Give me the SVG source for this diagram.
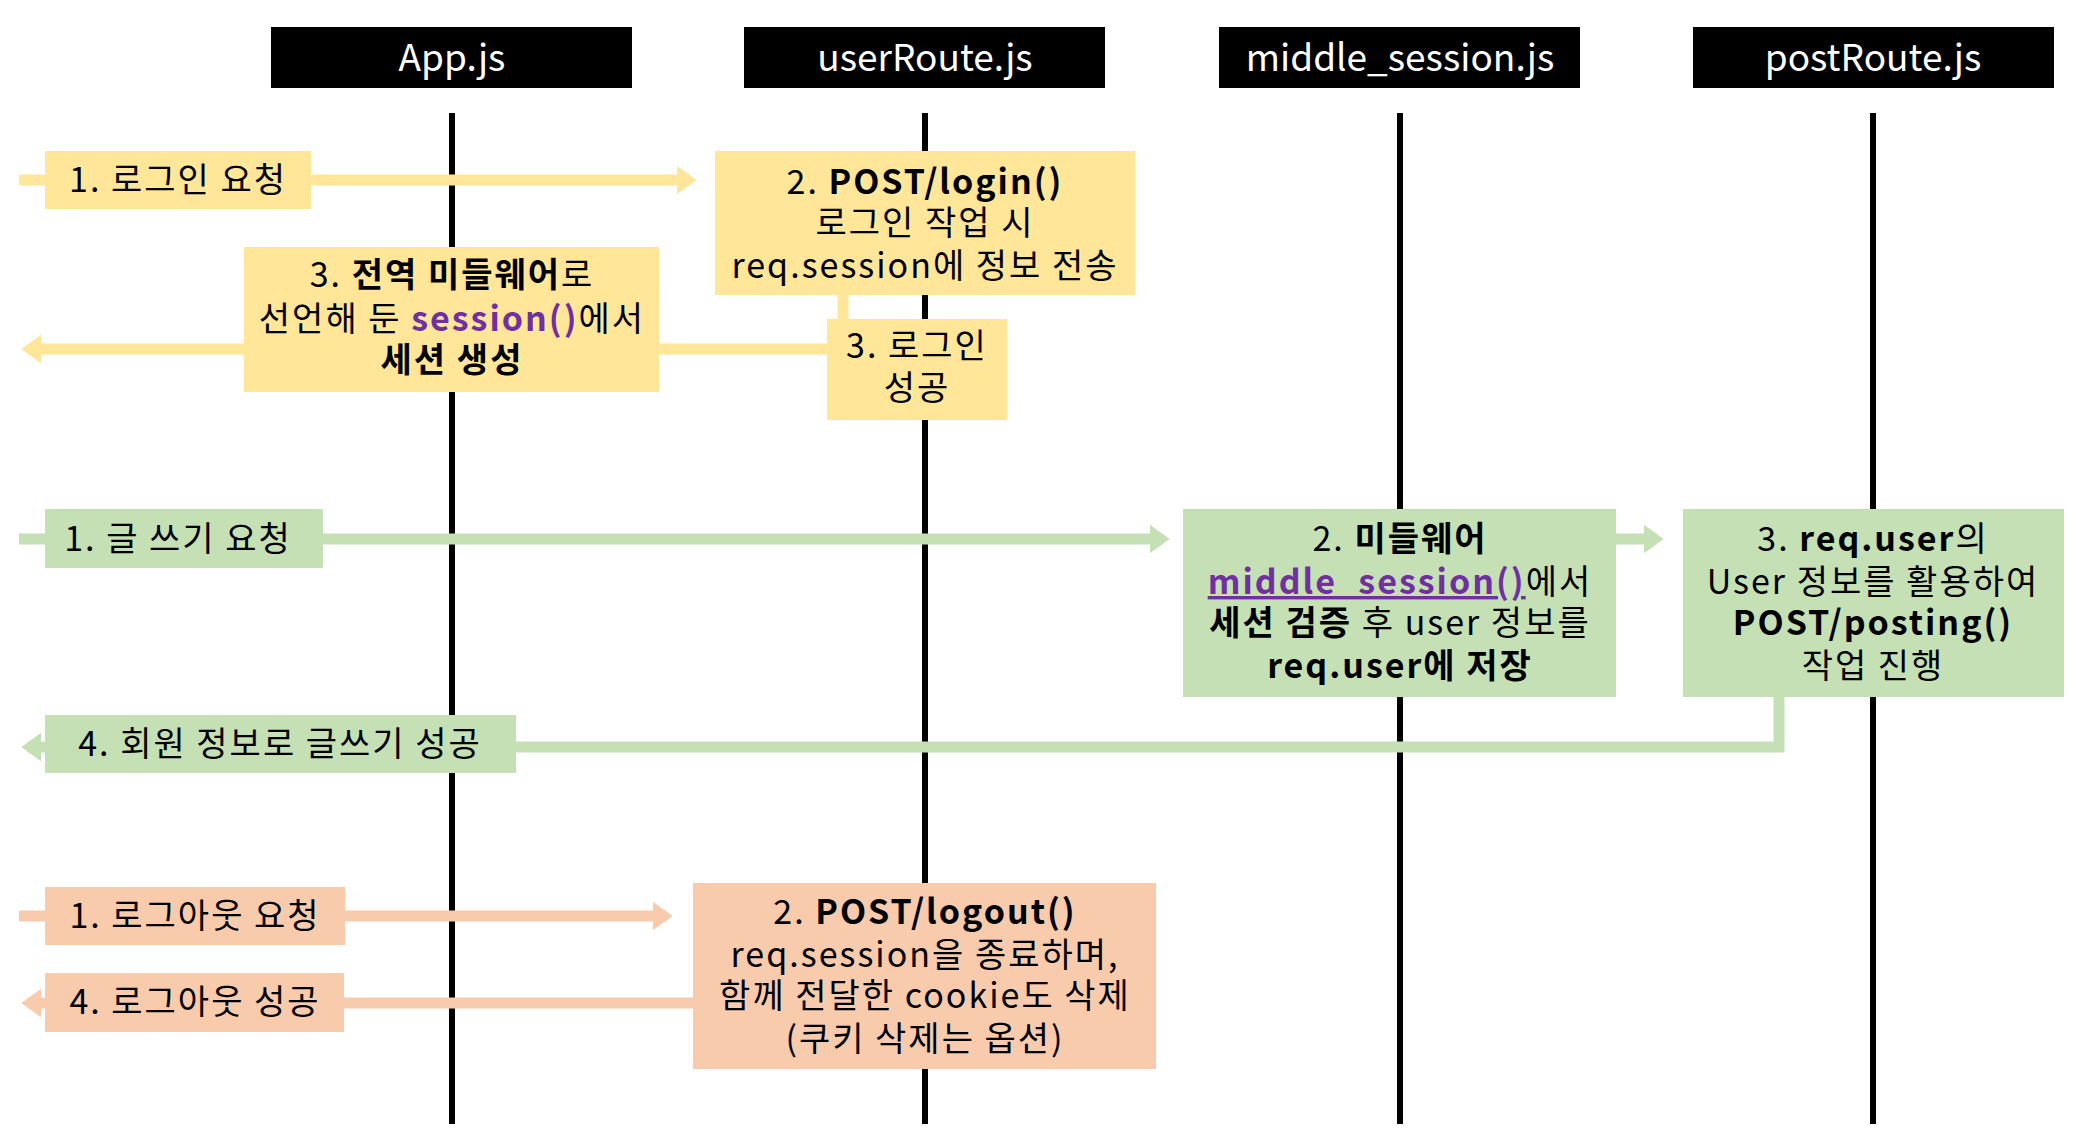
<svg xmlns="http://www.w3.org/2000/svg" width="2076" height="1137" viewBox="0 0 2076 1137">
<style>
text{font-family:"Noto Sans CJK KR","Noto Sans",sans-serif;font-size:34px;fill:#000;text-anchor:middle;letter-spacing:2px}
.hd{fill:#fff;font-size:37px;letter-spacing:0}
.b{font-weight:bold}
.p{font-weight:bold;fill:#7030A0}
.u{text-decoration:underline}
.life{stroke:#000;stroke-width:6}
.y{fill:#FFE699}.g{fill:#C5E0B4}.o{fill:#F8CBAD}
.ly{stroke:#FFE699;stroke-width:11;fill:none}
.lg{stroke:#C5E0B4;stroke-width:11;fill:none}
.lo{stroke:#F8CBAD;stroke-width:11;fill:none}
</style>
<defs>
<marker id="ay" markerWidth="3" markerHeight="3" refX="1.2" refY="1.5" orient="auto" markerUnits="strokeWidth"><path d="M0,0.2 L1.8,1.5 L0,2.8z" fill="#FFE699"/></marker>
<marker id="ag" markerWidth="3" markerHeight="3" refX="1.2" refY="1.5" orient="auto" markerUnits="strokeWidth"><path d="M0,0.2 L1.8,1.5 L0,2.8z" fill="#C5E0B4"/></marker>
<marker id="ao" markerWidth="3" markerHeight="3" refX="1.2" refY="1.5" orient="auto" markerUnits="strokeWidth"><path d="M0,0.2 L1.8,1.5 L0,2.8z" fill="#F8CBAD"/></marker>
</defs>
<rect width="2076" height="1137" fill="#fff"/>
<g id="headers">
<g id="h-app"><rect x="271" y="27" width="361" height="61"/><text class="hd" x="452" y="71">App.js</text></g>
<g id="h-user"><rect x="744" y="27" width="361" height="61"/><text class="hd" x="925" y="71">userRoute.js</text></g>
<g id="h-mid"><rect x="1219" y="27" width="361" height="61"/><text class="hd" x="1400" y="71">middle_session.js</text></g>
<g id="h-post"><rect x="1693" y="27" width="361" height="61"/><text class="hd" x="1873" y="71">postRoute.js</text></g>
</g>
<g id="lifelines">
<line class="life" x1="452" y1="113" x2="452" y2="1124"/>
<line class="life" x1="925" y1="113" x2="925" y2="1124"/>
<line class="life" x1="1400" y1="113" x2="1400" y2="1124"/>
<line class="life" x1="1873" y1="113" x2="1873" y2="1124"/>
</g>
<g id="connectors">
<line class="ly" x1="19" y1="180" x2="690" y2="180" marker-end="url(#ay)"/>
<path class="ly" d="M843,290 V349 H28" marker-end="url(#ay)"/>
<line class="lg" x1="19" y1="539" x2="1163" y2="539" marker-end="url(#ag)"/>
<line class="lg" x1="1610" y1="539" x2="1657" y2="539" marker-end="url(#ag)"/>
<path class="lg" d="M1779,690 V747 H28" marker-end="url(#ag)"/>
<line class="lo" x1="19" y1="916" x2="666" y2="916" marker-end="url(#ao)"/>
<line class="lo" x1="700" y1="1003" x2="28" y2="1003" marker-end="url(#ao)"/>
</g>
<g id="n-login-req"><rect class="y" x="45" y="151" width="266" height="58"/><text x="178" y="192">1. 로그인 요청</text></g>
<g id="n-post-login"><rect class="y" x="715" y="151" width="420" height="144"/>
<text x="925" y="194">2. <tspan class="b">POST/login()</tspan></text>
<text x="925" y="235">로그인 작업 시</text>
<text x="925" y="278" letter-spacing="1">req.session에 정보 전송</text></g>
<g id="n-login-ok"><rect class="y" x="827" y="319" width="180" height="101"/>
<text x="917" y="358">3. 로그인</text><text x="917" y="400">성공</text></g>
<g id="n-global"><rect class="y" x="244" y="247" width="415" height="145"/>
<text x="452" y="287">3. <tspan class="b">전역 미들웨어</tspan>로</text>
<text x="452" y="331">선언해 둔 <tspan class="p">session()</tspan>에서</text>
<text x="452" y="372" class="b">세션 생성</text></g>
<g id="n-write-req"><rect class="g" x="45" y="509" width="278" height="59"/><text x="178" y="551">1. 글 쓰기 요청</text></g>
<g id="n-mid"><rect class="g" x="1183" y="509" width="433" height="188"/>
<text x="1400" y="551">2. <tspan class="b">미들웨어</tspan></text>
<text x="1400" y="594" letter-spacing="1"><tspan class="p u">middle_session()</tspan>에서</text>
<text x="1400" y="635" letter-spacing="1"><tspan class="b">세션 검증</tspan> 후 user 정보를</text>
<text x="1400" y="678" class="b">req.user에 저장</text></g>
<g id="n-post"><rect class="g" x="1683" y="509" width="381" height="188"/>
<text x="1873" y="551">3. <tspan class="b">req.user</tspan>의</text>
<text x="1873" y="594" letter-spacing="1">User 정보를 활용하여</text>
<text x="1873" y="635" class="b" letter-spacing="0">POST/posting()</text>
<text x="1873" y="678">작업 진행</text></g>
<g id="n-write-ok"><rect class="g" x="45" y="715" width="471" height="58"/><text x="280" y="756">4. 회원 정보로 글쓰기 성공</text></g>
<g id="n-logout-req"><rect class="o" x="45" y="887" width="300" height="58"/><text x="195" y="928">1. 로그아웃 요청</text></g>
<g id="n-logout"><rect class="o" x="693" y="883" width="463" height="186"/>
<text x="925" y="924">2. <tspan class="b">POST/logout()</tspan></text>
<text x="925" y="967" letter-spacing="1">req.session을 종료하며,</text>
<text x="925" y="1008" letter-spacing="1">함께 전달한 cookie도 삭제</text>
<text x="925" y="1051">(쿠키 삭제는 옵션)</text></g>
<g id="n-logout-ok"><rect class="o" x="45" y="973" width="299" height="59"/><text x="195" y="1014">4. 로그아웃 성공</text></g>
</svg>
